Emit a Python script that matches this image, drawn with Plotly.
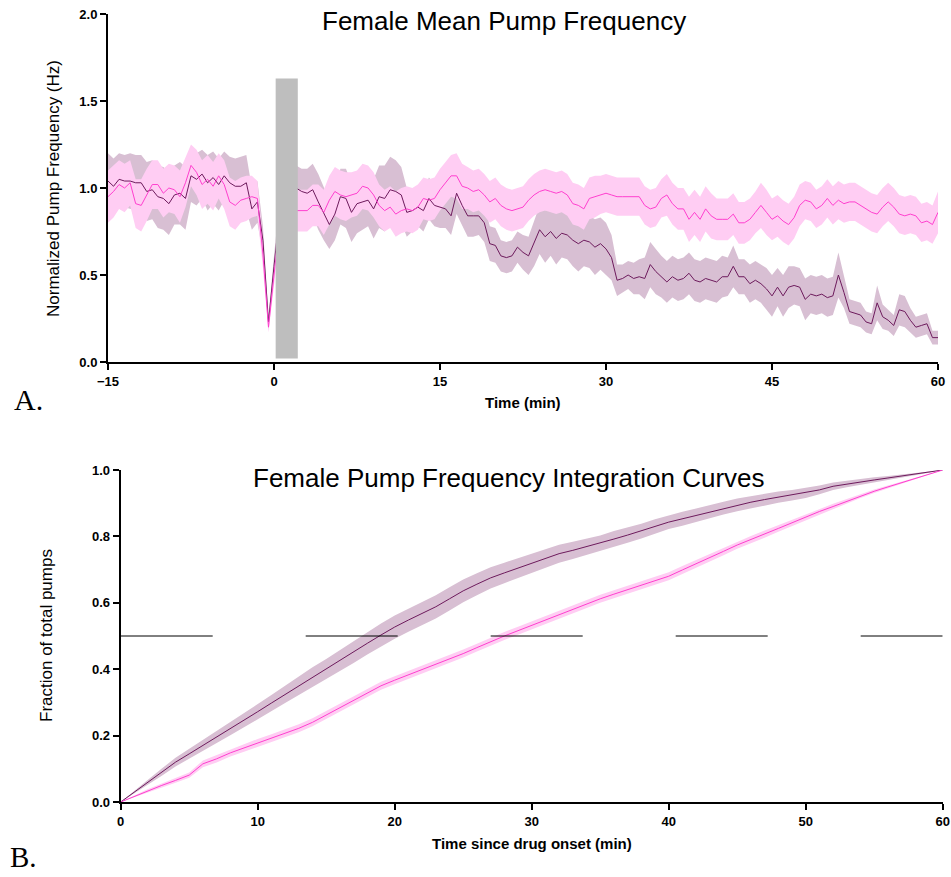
import numpy as np
import plotly.graph_objects as go

# ---------------- Data: panel A (mean pump frequency, 0.5-min bins) ----------------
t_top = np.arange(-15, 60.01, 0.5)

purple_mean = [
    1.04, 1.01, 1.05, 1.04, 1.04, 1.03, 1.03, 0.98, 0.99, 0.95,
    0.94, 0.91, 0.96, 0.97, 0.94, 1.07, 1.05, 1.08, 1.03, 1.06,
    1.02, 1.07, 1.03, 1.01, 1.01, 1.03, 0.88, 0.92, 0.70, 0.23,
    0.55, 0.85, 0.95, 0.98, 1.00, 0.98,
    0.97, 0.99, 0.92, 0.85, 0.79, 0.85, 0.95, 0.94, 0.86, 0.91,
    0.92, 0.93, 0.88, 0.95, 0.94, 0.99, 0.98, 0.96, 0.86, 0.87,
    0.89, 0.87, 0.94, 0.90, 0.89, 0.88, 0.84, 0.97, 0.90, 0.84,
    0.84, 0.84, 0.80, 0.68, 0.67, 0.61, 0.60, 0.61, 0.66,
    0.63, 0.61, 0.68, 0.76, 0.72, 0.75, 0.71, 0.74, 0.73, 0.70,
    0.68, 0.70, 0.69, 0.66, 0.68, 0.65, 0.60, 0.47, 0.48, 0.50,
    0.48, 0.49, 0.48, 0.56, 0.52, 0.49, 0.46, 0.49, 0.47, 0.48,
    0.51, 0.47, 0.46, 0.48, 0.47, 0.46, 0.49,
    0.49, 0.55, 0.49, 0.49, 0.45, 0.47, 0.45, 0.42, 0.38, 0.43,
    0.38, 0.43, 0.44, 0.43, 0.36, 0.39, 0.38, 0.39, 0.37, 0.38,
    0.50, 0.40, 0.29, 0.28, 0.27, 0.23, 0.22, 0.34, 0.26, 0.24,
    0.21, 0.30, 0.29, 0.24, 0.20, 0.21, 0.22, 0.14, 0.14,
]
purple_sem = [
    0.16, 0.16, 0.15, 0.15, 0.16, 0.16, 0.16, 0.17, 0.17, 0.18,
    0.18, 0.18, 0.17, 0.18, 0.18, 0.15, 0.15, 0.14, 0.16, 0.15,
    0.15, 0.14, 0.15, 0.16, 0.17, 0.16, 0.12, 0.12, 0.08, 0.03,
    0.06, 0.08, 0.10, 0.12, 0.13, 0.13,
    0.14, 0.15, 0.16, 0.15, 0.14, 0.15, 0.16, 0.17, 0.17, 0.17,
    0.16, 0.15, 0.17, 0.18, 0.19, 0.19, 0.18, 0.16, 0.14, 0.12,
    0.11, 0.12, 0.12, 0.12, 0.12, 0.11, 0.11, 0.12, 0.12, 0.12,
    0.12, 0.11, 0.11, 0.10, 0.10, 0.09, 0.09, 0.09, 0.09,
    0.10, 0.11, 0.13, 0.14, 0.15, 0.14, 0.15, 0.14, 0.14, 0.15,
    0.16, 0.15, 0.15, 0.16, 0.15, 0.15, 0.13, 0.09, 0.08, 0.08,
    0.09, 0.10, 0.12, 0.13, 0.13, 0.12, 0.12, 0.12, 0.12, 0.12,
    0.12, 0.12, 0.12, 0.12, 0.12, 0.12, 0.12,
    0.11, 0.12, 0.10, 0.10, 0.11, 0.11, 0.11, 0.12, 0.12, 0.11,
    0.12, 0.12, 0.11, 0.11, 0.12, 0.11, 0.11, 0.11, 0.11, 0.11,
    0.13, 0.09, 0.07, 0.07, 0.07, 0.06, 0.06, 0.10, 0.07, 0.06,
    0.06, 0.09, 0.09, 0.07, 0.06, 0.06, 0.06, 0.04, 0.04,
]
pink_mean = [
    0.95, 0.98, 1.02, 1.00, 1.03, 0.91, 0.90, 0.96, 1.02, 1.02,
    0.97, 1.00, 0.99, 0.95, 1.03, 1.13, 1.09, 1.02, 1.05, 1.01,
    1.07, 1.02, 0.92, 0.90, 0.93, 0.94, 0.95, 0.94, 0.62, 0.20,
    0.50, 0.80, 0.87, 0.88, 0.87, 0.87,
    0.87, 0.90, 0.90, 0.86, 0.93, 0.98, 0.96, 0.95, 0.96, 0.97,
    1.01, 1.00, 0.96, 0.90, 0.87, 0.89, 0.85, 0.87, 0.88, 0.87,
    0.89, 0.94, 0.93, 0.94, 0.99, 1.03, 1.07, 1.07, 1.01, 1.00,
    0.98, 0.99, 0.96, 0.92, 0.94, 0.90, 0.88, 0.87, 0.88,
    0.89, 0.93, 0.96, 0.98, 0.99, 0.98, 0.97, 0.98, 0.96, 0.91,
    0.90, 0.88, 0.94, 0.95, 0.96, 0.97, 0.96, 0.95, 0.95, 0.95,
    0.95, 0.95, 0.90, 0.88, 0.89, 0.94, 0.96, 0.91, 0.88, 0.88,
    0.82, 0.86, 0.82, 0.88, 0.84, 0.82, 0.82,
    0.82, 0.85, 0.80, 0.80, 0.82, 0.86, 0.90, 0.86, 0.82, 0.84,
    0.81, 0.79, 0.83, 0.90, 0.93, 0.92, 0.88, 0.90, 0.94, 0.90,
    0.93, 0.91, 0.92, 0.92, 0.90, 0.88, 0.86, 0.85, 0.89, 0.92,
    0.89, 0.85, 0.84, 0.85, 0.84, 0.80, 0.81, 0.79, 0.86,
]
pink_sem = [
    0.15, 0.15, 0.14, 0.14, 0.13, 0.14, 0.15, 0.15, 0.14, 0.14,
    0.14, 0.14, 0.14, 0.15, 0.14, 0.12, 0.13, 0.14, 0.14, 0.14,
    0.13, 0.14, 0.14, 0.14, 0.13, 0.13, 0.12, 0.10, 0.08, 0.03,
    0.06, 0.09, 0.11, 0.12, 0.12, 0.12,
    0.12, 0.12, 0.12, 0.13, 0.14, 0.14, 0.14, 0.14, 0.13, 0.13,
    0.13, 0.13, 0.13, 0.12, 0.12, 0.12, 0.13, 0.13, 0.13, 0.13,
    0.13, 0.12, 0.12, 0.12, 0.12, 0.12, 0.12, 0.13, 0.13, 0.12,
    0.12, 0.12, 0.12, 0.12, 0.12, 0.12, 0.12, 0.12, 0.12,
    0.12, 0.12, 0.12, 0.12, 0.12, 0.12, 0.12, 0.12, 0.12, 0.12,
    0.12, 0.12, 0.12, 0.12, 0.11, 0.11, 0.11, 0.11, 0.11, 0.11,
    0.11, 0.11, 0.11, 0.11, 0.11, 0.11, 0.12, 0.12, 0.12, 0.12,
    0.13, 0.13, 0.13, 0.13, 0.13, 0.12, 0.12,
    0.12, 0.12, 0.12, 0.12, 0.12, 0.12, 0.13, 0.13, 0.12, 0.12,
    0.12, 0.12, 0.12, 0.12, 0.11, 0.11, 0.11, 0.11, 0.11, 0.11,
    0.11, 0.11, 0.11, 0.11, 0.11, 0.11, 0.11, 0.11, 0.11, 0.11,
    0.11, 0.11, 0.11, 0.11, 0.11, 0.11, 0.11, 0.11, 0.12,
]
# drug-application bar (x start, x end, y bottom, y top)
drug_bar = [0.15, 2.15, 0.02, 1.63]

# ---------------- Data: panel B (integration curves, 1-min bins) ----------------
t_int = np.arange(0, 60.01, 1.0)
purple_cum = [
    0, 0.03, 0.06, 0.09, 0.12, 0.145, 0.17, 0.195, 0.22, 0.246,
    0.272, 0.298, 0.324, 0.35, 0.376, 0.40, 0.426, 0.452, 0.478, 0.503,
    0.527, 0.548, 0.568, 0.588, 0.612, 0.636, 0.656, 0.675, 0.69, 0.705,
    0.72, 0.735, 0.748, 0.758, 0.769, 0.779, 0.792, 0.804, 0.816, 0.83,
    0.843, 0.853, 0.864, 0.875, 0.885, 0.895, 0.903, 0.911, 0.918, 0.924,
    0.931, 0.94, 0.951, 0.958, 0.964, 0.97, 0.976, 0.982, 0.988, 0.994, 1.0,
]
purple_cum_sem = [
    0, 0.004, 0.008, 0.011, 0.013, 0.015, 0.017, 0.018, 0.019, 0.021,
    0.022, 0.024, 0.026, 0.028, 0.030, 0.031, 0.032, 0.033, 0.034, 0.035,
    0.035, 0.035, 0.035, 0.035, 0.035, 0.034, 0.033, 0.032, 0.031, 0.030,
    0.029, 0.028, 0.027, 0.026, 0.025, 0.024, 0.024, 0.023, 0.022, 0.022,
    0.021, 0.021, 0.020, 0.020, 0.019, 0.019, 0.018, 0.018, 0.017, 0.016,
    0.015, 0.013, 0.011, 0.010, 0.009, 0.008, 0.006, 0.005, 0.004, 0.002, 0,
]
pink_cum = [
    0, 0.017, 0.034, 0.05, 0.065, 0.081, 0.115, 0.13, 0.148, 0.163,
    0.178, 0.192, 0.207, 0.222, 0.24, 0.262, 0.285, 0.308, 0.33, 0.35,
    0.367, 0.383, 0.398, 0.413, 0.43, 0.447, 0.465, 0.483, 0.50, 0.516,
    0.532, 0.549, 0.566, 0.582, 0.597, 0.612, 0.626, 0.64, 0.654, 0.667,
    0.68, 0.699, 0.717, 0.735, 0.755, 0.774, 0.79, 0.807, 0.824, 0.841,
    0.859, 0.875, 0.89, 0.906, 0.922, 0.936, 0.949, 0.962, 0.975, 0.988, 1.0,
]
pink_cum_sem = [
    0, 0.003, 0.005, 0.006, 0.007, 0.008, 0.010, 0.011, 0.011, 0.012,
    0.012, 0.012, 0.012, 0.012, 0.012, 0.012, 0.012, 0.012, 0.012, 0.012,
    0.012, 0.012, 0.012, 0.012, 0.012, 0.012, 0.012, 0.012, 0.012, 0.012,
    0.012, 0.012, 0.012, 0.012, 0.012, 0.012, 0.012, 0.012, 0.012, 0.012,
    0.012, 0.012, 0.012, 0.012, 0.012, 0.011, 0.011, 0.011, 0.010, 0.010,
    0.009, 0.009, 0.008, 0.007, 0.006, 0.005, 0.004, 0.003, 0.002, 0.001, 0,
]
half_level = 0.5
half_x = [0, 60]

# ---------------- Styling ----------------
PURPLE_LINE = "#6d1a5c"
PURPLE_BAND = "#d8bfd3"
PINK_LINE = "#ff3fcf"
PINK_BAND = "#ffcdf3"
SANS = "Liberation Sans, Arial, sans-serif"
SERIF = "Liberation Serif, Times New Roman, serif"

fig = go.Figure()


def add_band(x, mean, sem, color, xa, ya):
    m = np.array(mean, dtype=float)
    s = np.array(sem, dtype=float)
    fig.add_trace(go.Scatter(x=x, y=m + s, mode="lines", line=dict(width=0, color=color),
                             hoverinfo="skip", showlegend=False, xaxis=xa, yaxis=ya))
    fig.add_trace(go.Scatter(x=x, y=m - s, mode="lines", line=dict(width=0, color=color),
                             fill="tonexty", fillcolor=color,
                             hoverinfo="skip", showlegend=False, xaxis=xa, yaxis=ya))


def add_line(x, y, color, xa, ya, width=1):
    fig.add_trace(go.Scatter(x=x, y=y, mode="lines", line=dict(width=width, color=color),
                             hoverinfo="skip", showlegend=False, xaxis=xa, yaxis=ya))


# Panel A
add_band(t_top, purple_mean, purple_sem, PURPLE_BAND, "x", "y")
add_band(t_top, pink_mean, pink_sem, PINK_BAND, "x", "y")
add_line(t_top, purple_mean, PURPLE_LINE, "x", "y")
add_line(t_top, pink_mean, PINK_LINE, "x", "y")

# Panel B
add_band(t_int, purple_cum, purple_cum_sem, PURPLE_BAND, "x2", "y2")
add_band(t_int, pink_cum, pink_cum_sem, PINK_BAND, "x2", "y2")
add_line(t_int, purple_cum, PURPLE_LINE, "x2", "y2")
add_line(t_int, pink_cum, PINK_LINE, "x2", "y2")
fig.add_trace(go.Scatter(x=half_x, y=[half_level, half_level], mode="lines",
                         line=dict(width=1, color="black", dash="92px,93px"),
                         hoverinfo="skip", showlegend=False, xaxis="x2", yaxis="y2"))

# gray drug bar
fig.add_shape(type="rect", xref="x", yref="y", x0=drug_bar[0], x1=drug_bar[1],
              y0=drug_bar[2], y1=drug_bar[3], fillcolor="#bebebe",
              line=dict(width=0), layer="above")

W, H = 951, 877
axis_common = dict(showline=True, linecolor="black", linewidth=2, ticks="outside",
                   ticklen=6, tickwidth=2, tickcolor="black", showgrid=False,
                   zeroline=False, fixedrange=True, automargin=False,
                   tickfont=dict(family=SANS, size=13, color="black", weight="bold"))

fig.update_layout(
    template="plotly",
    width=W, height=H, margin=dict(l=0, r=0, t=0, b=0, pad=0, autoexpand=False),
    paper_bgcolor="white", plot_bgcolor="white", showlegend=False,
    xaxis=dict(domain=[108 / W, 938 / W], anchor="y", range=[-15, 60],
               tickvals=[-15, 0, 15, 30, 45, 60], **axis_common),
    yaxis=dict(domain=[1 - 362 / H, 1 - 14 / H], anchor="x", range=[0, 2],
               tickvals=[0, 0.5, 1.0, 1.5, 2.0], tickformat=".1f", **axis_common),
    xaxis2=dict(domain=[120.7 / W, 942.7 / W], anchor="y2", range=[0, 60],
                tickvals=[0, 10, 20, 30, 40, 50, 60], **axis_common),
    yaxis2=dict(domain=[1 - 802 / H, 1 - 470 / H], anchor="x2", range=[0, 1],
                tickvals=[0, 0.2, 0.4, 0.6, 0.8, 1.0], tickformat=".1f", **axis_common),
)


def ann(text, px, py, size, family=SANS, angle=0, xanchor="center", yanchor="middle"):
    fig.add_annotation(text=text, xref="paper", yref="paper", x=px / W, y=1 - py / H,
                       showarrow=False, textangle=angle, xanchor=xanchor, yanchor=yanchor,
                       font=dict(family=family, size=size, color="black"))


ann("Female Mean Pump Frequency", 503.5, 21, 26)
ann("Female Pump Frequency Integration Curves", 508.5, 478, 26)
ann("Normalized Pump Frequency (Hz)", 53, 189, 17, angle=-90)
ann("Fraction of total pumps", 46, 636, 17, angle=-90)
ann("<b>Time (min)</b>", 523, 402, 15)
ann("<b>Time since drug onset (min)</b>", 531.5, 843, 15)
ann("A.", 12, 400, 30, family=SERIF, xanchor="left")
ann("B.", 8, 875, 29, family=SERIF, xanchor="left", yanchor="bottom")

fig.write_html("out.html")
